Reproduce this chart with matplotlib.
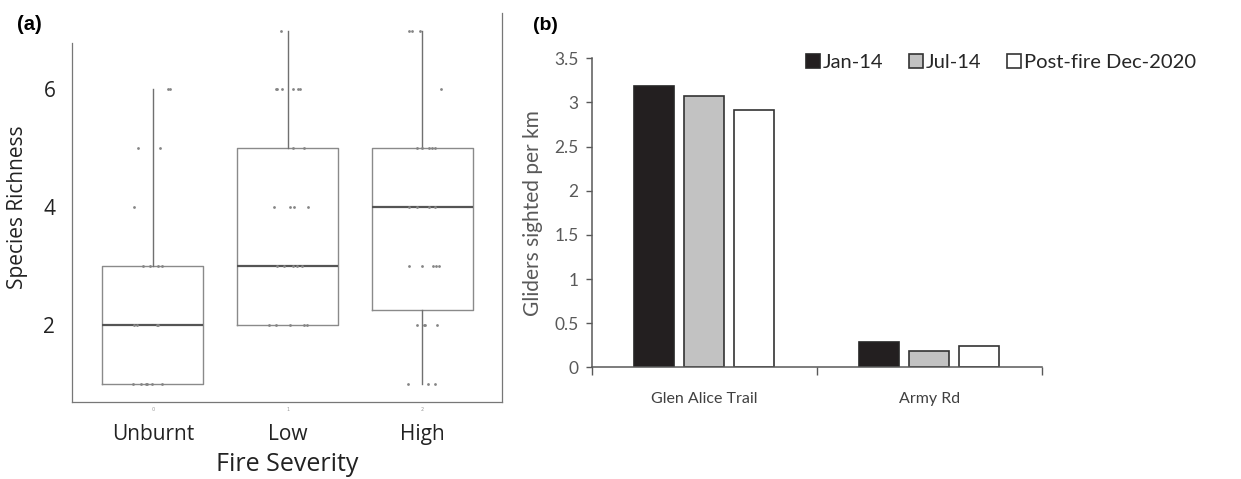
import matplotlib
matplotlib.use('Agg')
import matplotlib.pyplot as plt

# panel (a): box plot stats
severity = ['Unburnt', 'Low', 'High']
severity_codes = ['0', '1', '2']
box_q1 = [1, 2, 2.25]
box_med = [2, 3, 4]
box_q3 = [3, 5, 5]
whis_lo = [1, 2, 1]
whis_hi = [6, 7, 7]

# jittered raw points (value, horizontal jitter)
unburnt_y = [6, 6, 5, 5, 4, 3, 3, 3, 3, 2, 2, 2, 2, 1, 1, 1, 1, 1, 1]
unburnt_dx = [0.11, 0.13, -0.11, 0.05, -0.14, -0.07, -0.02, 0.04, 0.07, -0.14, -0.12, 0.03, 0.04,
              -0.15, -0.09, -0.05, -0.04, -0.01, 0.07]
low_y = [7, 6, 6, 6, 6, 6, 6, 5, 5, 4, 4, 4, 4, 3, 3, 3, 3, 3, 2, 2, 2, 2, 2]
low_dx = [-0.05, -0.09, -0.08, -0.04, 0.04, 0.08, 0.09, 0.04, 0.12, -0.10, 0.02, 0.05, 0.15,
          -0.08, -0.03, 0.04, 0.07, 0.11, -0.14, -0.09, 0.02, 0.12, 0.14]
high_y = [7, 7, 7, 6, 5, 5, 5, 5, 5, 4, 4, 4, 4, 3, 3, 3, 3, 3, 2, 2, 2, 2, 1, 1, 1]
high_dx = [-0.10, -0.08, -0.02, 0.14, -0.04, 0.00, 0.05, 0.07, 0.09, -0.10, -0.04, 0.05, 0.09,
           -0.10, 0.00, 0.08, 0.10, 0.12, -0.04, 0.01, 0.02, 0.11, -0.11, 0.04, 0.09]

# panel (b): gliders per km
sites = ['Glen Alice Trail', 'Army Rd']
jan14 = [3.19, 0.29]
jul14 = [3.07, 0.19]
dec20 = [2.91, 0.24]
series_names = ['Jan-14', 'Jul-14', 'Post-fire Dec-2020']

fig = plt.figure(figsize=(12.41, 4.79), dpi=100)

# ---------- (a) ----------
ax = fig.add_axes([0.058, 0.1608, 0.3465, 0.8121])
stats = []
for i in range(3):
    stats.append({'med': box_med[i], 'q1': box_q1[i], 'q3': box_q3[i],
                  'whislo': whis_lo[i], 'whishi': whis_hi[i], 'fliers': []})
ax.bxp(stats, positions=[0, 1, 2], widths=0.75, showcaps=False, showfliers=False,
       boxprops=dict(color='#8a8a8a', linewidth=1.0),
       whiskerprops=dict(color='#707070', linewidth=1.0),
       medianprops=dict(color='#555555', linewidth=1.6))

for i, (ys, dxs) in enumerate([(unburnt_y, unburnt_dx), (low_y, low_dx), (high_y, high_dx)]):
    xs = [i + d for d in dxs]
    ax.scatter(xs, ys, s=4, color='#858585', zorder=3, linewidths=0)

ax.set_xlim(-0.60, 2.59)
ax.set_ylim(0.69, 7.3)
ax.set_yticks([2, 4, 6])
ax.tick_params(axis='y', length=0, pad=12, labelsize=15, labelcolor='#222222')
ax.set_xticks([0, 1, 2])
ax.set_xticklabels(severity, fontsize=15, color='#222222')
ax.tick_params(axis='x', length=0, pad=16)
for lab in ax.get_yticklabels() + ax.get_xticklabels():
    lab.set_family('Open Sans')
# tiny leftover code labels under the axis
for i, c in enumerate(severity_codes):
    ax.text(i, -0.012, c, transform=ax.get_xaxis_transform(), fontsize=3.5,
            color='#999999', ha='center', va='top')
ax.spines['top'].set_visible(False)
for s in ['left', 'bottom', 'right']:
    ax.spines[s].set_color('#777777')
    ax.spines[s].set_linewidth(0.9)
ax.spines['left'].set_bounds(0.69, 6.79)
ax.set_ylabel('Species Richness', fontsize=15, family='Open Sans', color='#222222', labelpad=11)
ax.set_xlabel('Fire Severity', fontsize=18, family='Open Sans', color='#222222', labelpad=5)

# ---------- (b) ----------
bx = fig.add_axes([0.4768, 0.2332, 0.3626, 0.6451])
centers = [0.5, 1.5]
off = 0.222
w = 0.178
b1 = bx.bar([c - off for c in centers], jan14, w, color='#231f20', edgecolor='#262626', linewidth=1.2)
b2 = bx.bar(centers, jul14, w, color='#c2c2c2', edgecolor='#333333', linewidth=1.2)
b3 = bx.bar([c + off for c in centers], dec20, w, color='white', edgecolor='#333333', linewidth=1.2)

bx.set_xlim(0, 2)
bx.set_ylim(0, 3.5)
bx.set_yticks([0, 0.5, 1, 1.5, 2, 2.5, 3, 3.5])
bx.set_yticklabels(['0', '0.5', '1', '1.5', '2', '2.5', '3', '3.5'])
bx.tick_params(axis='y', length=4.5, width=1, color='#595959', pad=5,
               labelsize=12.5, labelcolor='#595959')
bx.set_xticks([0, 1, 2])
bx.set_xticklabels([])
bx.tick_params(axis='x', length=6, width=1, color='#595959')
bx.set_xticks(centers, minor=True)
bx.set_xticklabels(sites, minor=True)
bx.tick_params(axis='x', which='minor', length=0, pad=18, labelsize=11.5, labelcolor='#404040')
for lab in bx.get_yticklabels() + bx.get_xticklabels(minor=True):
    lab.set_family('Lato')
bx.spines['top'].set_visible(False)
bx.spines['right'].set_visible(False)
bx.spines['left'].set_color('#595959')
bx.spines['bottom'].set_color('#595959')
bx.spines['left'].set_linewidth(1.1)
bx.spines['bottom'].set_linewidth(1.1)
bx.set_ylabel('Gliders sighted per km', fontsize=15, family='Lato', color='#595959', labelpad=8)

leg = bx.legend([b1, b2, b3], series_names, ncol=3, frameon=False, loc='center left',
                bbox_to_anchor=(806 / 1241, 1 - 62.7 / 479), bbox_transform=fig.transFigure,
                handlelength=0.7, handleheight=0.7, handletextpad=0.15, columnspacing=1.25,
                borderpad=0, borderaxespad=0, prop={'family': 'Lato', 'size': 14.5})
for t in leg.get_texts():
    t.set_color('#262626')

fig.text(17 / 1241, 1 - 24 / 479, '(a)', fontsize=14.5, fontweight='bold',
         family='Liberation Sans', va='center', ha='left')
fig.text(533 / 1241, 1 - 25 / 479, '(b)', fontsize=14, fontweight='bold',
         family='Liberation Sans', va='center', ha='left')

fig.savefig('out.png', dpi=100)
